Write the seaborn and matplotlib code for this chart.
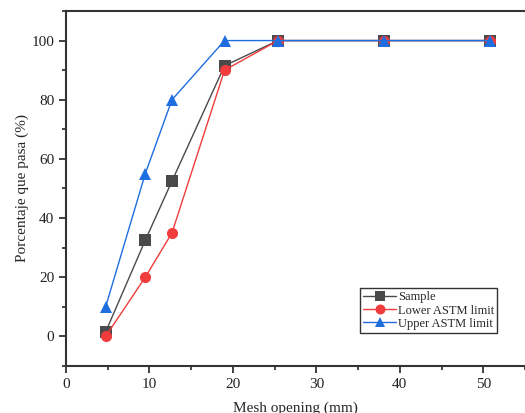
import pandas as pd
import matplotlib.pyplot as plt
import seaborn as sns
from matplotlib.ticker import MultipleLocator


# DATA
mesh_opening = [4.75, 9.5, 12.7, 19.0, 25.4, 38.1, 50.8]
sample = [1.5, 32.5, 52.5, 91.5, 100, 100, 100]
lower_astm = [0, 20, 35, 90, 100, 100, 100]
upper_astm = [10, 55, 80, 100, 100, 100, 100]
series_names = ["Sample", "Lower ASTM limit", "Upper ASTM limit"]

df = pd.concat([
    pd.DataFrame({"x": mesh_opening, "y": vals, "serie": name})
    for name, vals in zip(series_names, [sample, lower_astm, upper_astm])
])

colors = {"Sample": "#4a4a4a", "Lower ASTM limit": "#f03c3c", "Upper ASTM limit": "#1f6ee0"}
markers = {"Sample": "s", "Lower ASTM limit": "o", "Upper ASTM limit": "^"}


# PLOT
sns.set_style("ticks")
plt.rcParams['font.family'] = ['Liberation Serif', 'DejaVu Serif']

fig = plt.figure(figsize=(5.25, 4.13), dpi=100)
ax = fig.add_axes([0.1257, 0.1138, 0.8743, 0.8596])

sns.lineplot(
    data=df, x="x", y="y", hue="serie", style="serie",
    palette=colors, markers=markers, dashes=False,
    markersize=8, linewidth=1, markeredgewidth=0, ax=ax
)

ax.set_xlim(0, 55)
ax.set_ylim(-10, 110)
ax.xaxis.set_major_locator(MultipleLocator(10))
ax.xaxis.set_minor_locator(MultipleLocator(5))
ax.yaxis.set_major_locator(MultipleLocator(20))
ax.yaxis.set_minor_locator(MultipleLocator(10))
ax.tick_params(which='major', direction='out', length=5, width=1.2, labelsize=11, colors='#222222')
ax.tick_params(which='minor', direction='out', length=3, width=1.2)

for side in ['left', 'bottom', 'top']:
    ax.spines[side].set_linewidth(1.5)
    ax.spines[side].set_color('#333333')
ax.spines['top'].set_visible(True)
ax.spines['right'].set_visible(False)

ax.set_xlabel("Mesh opening (mm)", fontsize=11, labelpad=8)
ax.set_ylabel("Porcentaje que pasa (%)", fontsize=11, labelpad=2)

leg = ax.legend(
    title=None, loc='lower right', bbox_to_anchor=(0.939, 0.093),
    fontsize=9, frameon=True, fancybox=False, edgecolor='black',
    borderpad=0.25, labelspacing=0.1, handlelength=2.6, handletextpad=0.15,
    borderaxespad=0, markerscale=0.9
)
leg.get_frame().set_linewidth(1.0)

plt.savefig("out.png", dpi=100)
